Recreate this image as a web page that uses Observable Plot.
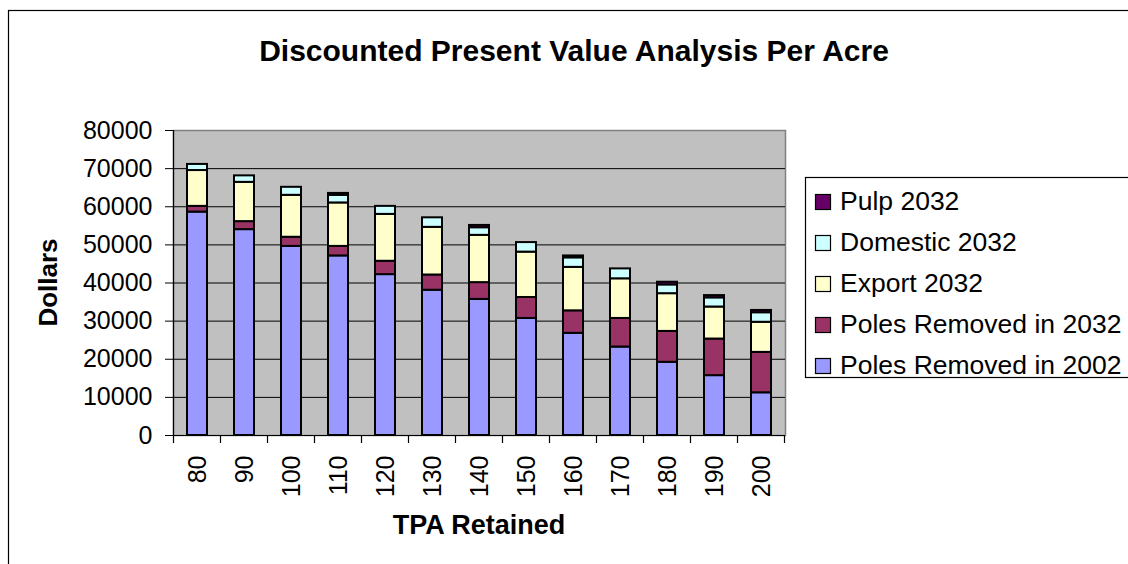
<!DOCTYPE html>
<html>
<head>
<meta charset="utf-8">
<script src="https://cdn.jsdelivr.net/npm/d3@7"></script>
<script src="https://cdn.jsdelivr.net/npm/@observablehq/plot@0.6"></script>
<style>
  html, body { margin: 0; padding: 0; background: #fff; }
  #chart { width: 1128px; height: 564px; overflow: hidden; }
</style>
</head>
<body>
<div id="chart"></div>
<script>
const categories = ["80","90","100","110","120","130","140","150","160","170","180","190","200"];
const series = ["Poles Removed in 2002","Poles Removed in 2032","Export 2032","Domestic 2032","Pulp 2032"];
const colors = ["#9999FF","#993366","#FFFFCC","#CCFFFF","#660066"];
const poles2002   = [58600,54000,49600,47100,42200,38100,35700,30700,26800,23200,19200,15700,11200];
const poles2032   = [1500,2100,2400,2500,3500,4000,4400,5500,5900,7500,8100,9600,10600];
const export2032  = [9400,10300,11000,11400,12300,12500,12400,11900,11400,10400,9900,8400,7900];
const domestic2032= [1600,1700,2100,2000,2100,2500,2000,2500,2500,2600,2300,2400,2500];
const pulp2032    = [0,0,0,500,0,0,600,0,500,0,700,600,600];
const yTicks = [0,10000,20000,30000,40000,50000,60000,70000,80000];
const title = "Discounted Present Value Analysis Per Acre";
const xTitle = "TPA Retained";
const yTitle = "Dollars";

const seriesValues = [poles2002, poles2032, export2032, domestic2032, pulp2032];
const rows = [];
categories.forEach((c, i) => {
  series.forEach((s, j) => rows.push({tpa: c, series: s, value: seriesValues[j][i]}));
});

const font = "'Liberation Sans', Arial, sans-serif";

const chart = Plot.plot({
  width: 1128,
  height: 564,
  marginLeft: 173,
  marginRight: 343,
  marginTop: 130,
  marginBottom: 129,
  style: {fontFamily: font, fontSize: "25px", color: "#000", background: "transparent", overflow: "visible"},
  x: {domain: categories, paddingInner: 0.58, paddingOuter: 0.29, label: null},
  y: {domain: [0, 80000], label: null},
  color: {domain: series, range: colors},
  marks: [
    Plot.frame({fill: "#C0C0C0", stroke: "#808080", strokeWidth: 1.5}),
    Plot.ruleY(yTicks.slice(1, -1), {stroke: "#000", strokeWidth: 1}),
    Plot.barY(rows, {x: "tpa", y: "value", fill: "series", order: series, stroke: "#000", strokeWidth: 2}),
    Plot.axisY({ticks: yTicks, tickSize: 8, tickPadding: 13, tickFormat: d => String(d), fontSize: 25}),
    Plot.axisX({tickSize: 0, tickPadding: 20, tickRotate: -90, fontSize: 25}),
    Plot.ruleY([0], {stroke: "#000", strokeWidth: 1.2})
  ]
});

const svg = d3.select(chart);
const xs = chart.scale("x");
const ys = chart.scale("y");
const y0 = ys.apply(0);
const yTop = ys.apply(80000);
const gap = (xs.step - xs.bandwidth) / 2;
const xLeft = xs.apply(categories[0]) - gap;
const xRight = xs.apply(categories[categories.length - 1]) + xs.bandwidth + gap;

// left axis line
svg.append("line").attr("x1", xLeft).attr("x2", xLeft).attr("y1", yTop).attr("y2", y0)
  .attr("stroke", "#000").attr("stroke-width", 1.2);
// category boundary ticks
const bounds = categories.map(c => xs.apply(c) - gap).concat([xRight]);
svg.append("g").selectAll("line").data(bounds).join("line")
  .attr("x1", d => d).attr("x2", d => d).attr("y1", y0).attr("y2", y0 + 8)
  .attr("stroke", "#000").attr("stroke-width", 1.2);

// outer border
svg.append("rect").attr("x", 8.5).attr("y", 10.5).attr("width", 2000).attr("height", 2000)
  .attr("fill", "none").attr("stroke", "#000").attr("stroke-width", 1.2);

// title
svg.append("text").attr("x", 574).attr("y", 53).attr("text-anchor", "middle")
  .attr("dominant-baseline", "middle").attr("font-family", font)
  .attr("font-size", 30).attr("font-weight", "bold").text(title);

// axis titles
svg.append("text").attr("x", (xLeft + xRight) / 2).attr("y", 527).attr("text-anchor", "middle")
  .attr("dominant-baseline", "middle").attr("font-family", font)
  .attr("font-size", 27).attr("font-weight", "bold").text(xTitle);
svg.append("text").attr("transform", `translate(50,${(y0 + yTop) / 2}) rotate(-90)`)
  .attr("text-anchor", "middle").attr("dominant-baseline", "middle").attr("font-family", font)
  .attr("font-size", 26).attr("font-weight", "bold").text(yTitle);

// legend
const lg = svg.append("g").attr("text-anchor", "start");
lg.append("rect").attr("x", 805.5).attr("y", 177.5).attr("width", 600).attr("height", 200)
  .attr("fill", "#fff").attr("stroke", "#000").attr("stroke-width", 1.2);
const legendItems = series.map((s, i) => ({s, c: colors[i]})).reverse();
legendItems.forEach((d, i) => {
  const cy = 202 + i * 41;
  lg.append("rect").attr("x", 815.5).attr("y", cy - 7.5).attr("width", 15).attr("height", 15)
    .attr("fill", d.c).attr("stroke", "#000").attr("stroke-width", 1.2);
  lg.append("text").attr("x", 840).attr("y", cy + 1).attr("text-anchor", "start")
    .attr("dominant-baseline", "middle")
    .attr("font-family", font).attr("font-size", 26.5).text(d.s);
});

document.getElementById("chart").appendChild(chart);
</script>
</body>
</html>
